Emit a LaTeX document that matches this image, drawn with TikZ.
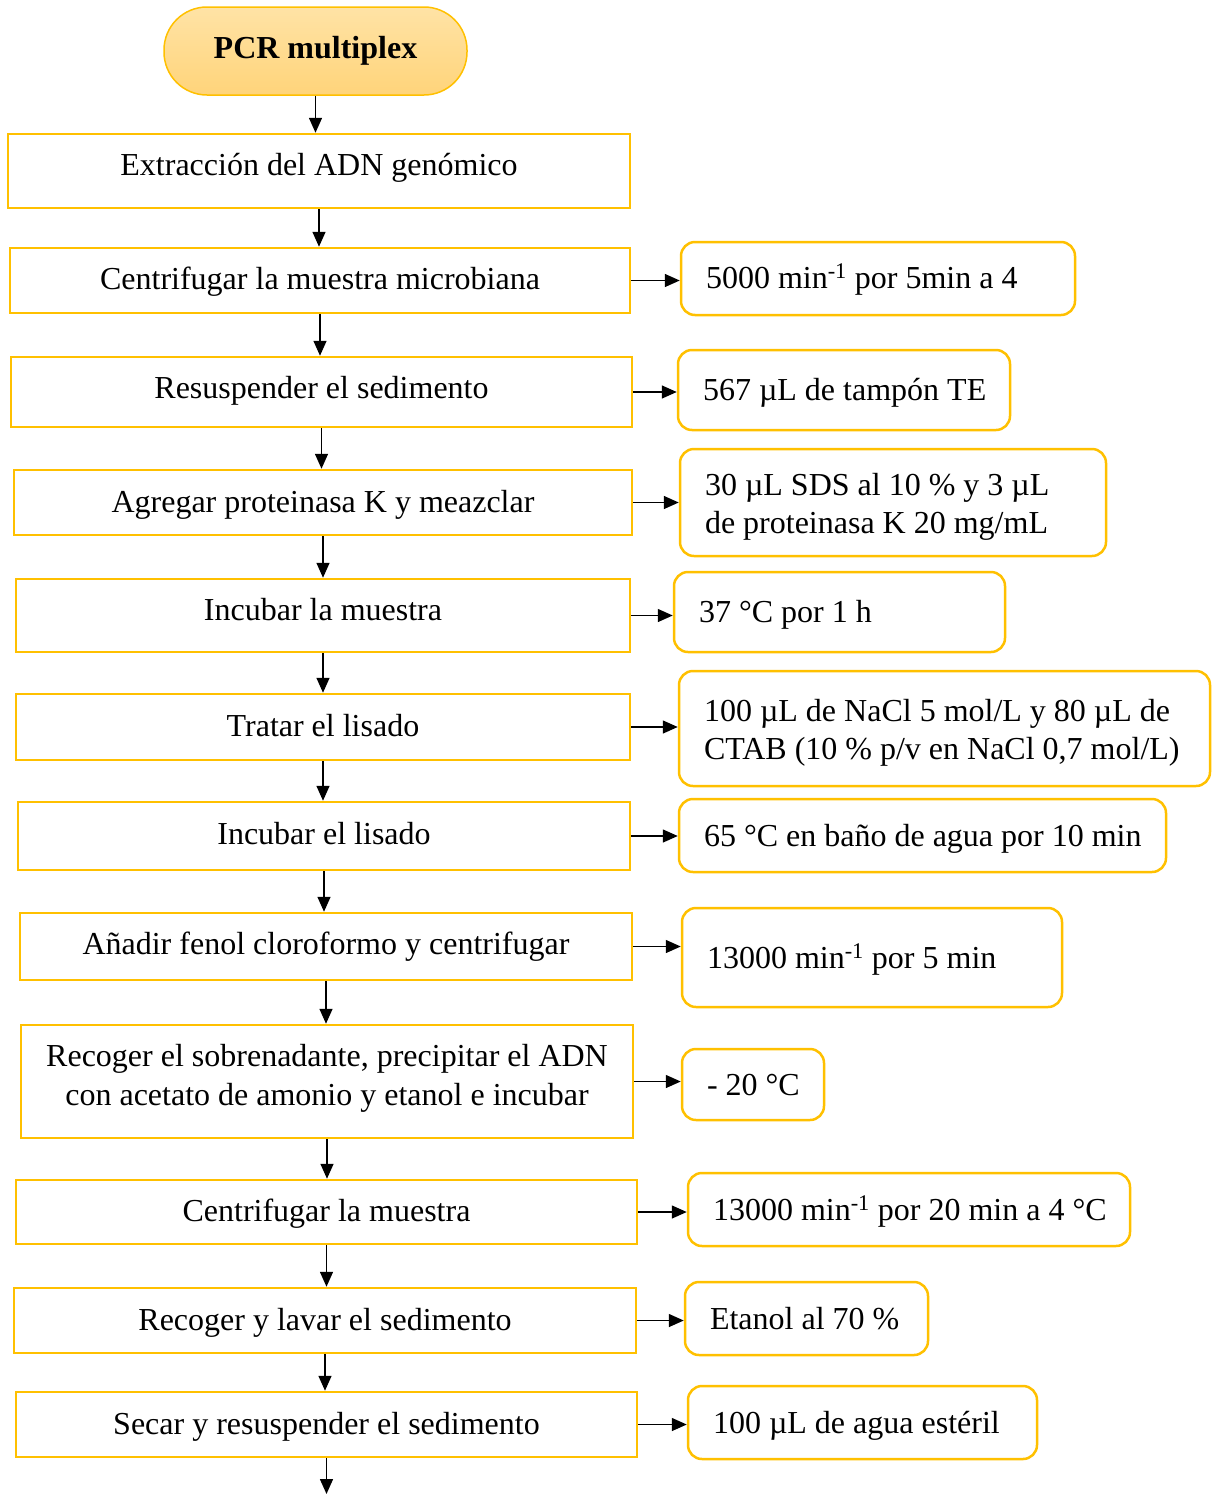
\documentclass[tikz,border=0pt]{standalone}
\usepackage{fontspec}
\setmainfont{Liberation Serif}
\usetikzlibrary{arrows.meta}
\definecolor{gold}{HTML}{FFC000}
\definecolor{ovaltop}{HTML}{FFE3A6}
\definecolor{ovalbot}{HTML}{FFD47A}

% step box: name, x1, y1, x2, y2, depth of last baseline below the top, text
\newcommand\stepnode[7]{%
  \node[stepbox, minimum width={(#4-#2)*1pt}, minimum height={(#5-#3)*1pt},
    text height={#6*1pt}, text depth={(#5-#3-#6)*1pt}]
    (#1) at ({(#2+#4)/2},{(#3+#5)/2}) {#7};}
% note box: name, x1, y1, x2, y2, text height, text depth, text
\newcommand\notenode[8]{%
  \node[notebox, text width={(#4-#2-50)*1pt}, minimum height={(#5-#3)*1pt},
    text height={#6*1pt}, text depth={#7*1pt}]
    (#1) at ({(#2+#4)/2},{(#3+#5)/2}) {#8};}

\begin{document}
\begin{tikzpicture}[x=1pt, y=-1pt,
  stepbox/.style={draw=gold, line width=2.5pt, rectangle, inner sep=0pt,
    align=center, font=\fontsize{32}{39}\selectfont},
  notebox/.style={draw=gold, line width=2.5pt, rectangle, rounded corners=14pt,
    inner xsep=25pt, inner ysep=0pt, align=flush left,
    font=\fontsize{32}{38.5}\selectfont},
  flow/.style={-{Triangle[length=15pt,width=13pt]}, line width=1.5pt, black}
]
\useasboundingbox (0,0) rectangle (1212,1494);

% start terminal
\node[draw=gold, line width=1.5pt, rounded corners=43pt,
  top color=ovaltop, bottom color=ovalbot,
  minimum width=303pt, minimum height=88pt,
  font=\fontsize{32}{39}\selectfont\bfseries] (start) at (315.5,51) {PCR multiplex};

% procedure steps
\stepnode{s1}{8}{134}{630}{208}{41.5}{Extracción del ADN genómico}
\stepnode{s2}{10}{248}{630}{313}{41.5}{Centrifugar la muestra microbiana}
\stepnode{s3}{11}{357}{632}{427}{41.5}{Resuspender el sedimento}
\stepnode{s4}{14}{470}{632}{535}{42}{Agregar proteinasa K y meazclar}
\stepnode{s5}{16}{579}{630}{652}{41.5}{Incubar la muestra}
\stepnode{s6}{16}{694}{630}{760}{42}{Tratar el lisado}
\stepnode{s7}{18}{802}{630}{870}{42}{Incubar el lisado}
\stepnode{s8}{20}{913}{632}{980}{41.5}{Añadir fenol cloroformo y centrifugar}
\stepnode{s9}{21}{1025}{633}{1138}{80}{Recoger el sobrenadante, precipitar el ADN\\con acetato de amonio y etanol e incubar}
\stepnode{s10}{16}{1180}{637}{1244}{41.5}{Centrifugar la muestra}
\stepnode{s11}{14}{1288}{636}{1353}{42}{Recoger y lavar el sedimento}
\stepnode{s12}{16}{1392}{637}{1457}{42}{Secar y resuspender el sedimento}
\coordinate (end) at (325,1494);

% conditions
\notenode{n2}{681}{242}{1075}{315}{25}{6}{\mbox{5000 min\textsuperscript{-1} por 5min a 4}}
\notenode{n3}{678}{350}{1010}{430}{26}{6}{\mbox{567 µL de tampón TE}}
\notenode{n4}{680}{449}{1106}{556}{25}{40}{\mbox{30 µL SDS al 10 \% y 3 µL}\\\mbox{de proteinasa K 20 mg/mL}}
\notenode{n5}{674}{572}{1005}{652}{27}{6}{\mbox{37 °C por 1 h}}
\notenode{n6}{679}{671}{1210}{786}{25}{40}{\mbox{100 µL de NaCl 5 mol/L y 80 µL de}\\\mbox{CTAB (10 \% p/v en NaCl 0,7 mol/L)}}
\notenode{n7}{679}{799}{1166}{872}{27}{6}{\mbox{65 °C en baño de agua por 10 min}}
\notenode{n8}{682}{908}{1062}{1007}{27}{6}{\mbox{13000 min\textsuperscript{-1} por 5 min}}
\notenode{n9}{682}{1049}{824}{1120}{27}{6}{\mbox{- 20 °C}}
\notenode{n10}{688}{1173}{1130}{1246}{27}{6}{\mbox{13000 min\textsuperscript{-1} por 20 min a 4 °C}}
\notenode{n11}{685}{1282}{928}{1355}{27}{6}{\mbox{Etanol al 70 \%}}
\notenode{n12}{688}{1386}{1037}{1459}{28}{6}{\mbox{100 µL de agua estéril}}

% main flow
\draw[flow] (start.south) -- (start.south |- s1.north);
\foreach \a/\b in {s1/s2,s2/s3,s3/s4,s4/s5,s5/s6,s6/s7,s7/s8,s8/s9,s9/s10,s10/s11,s11/s12}
  \draw[flow] (\a.south) -- (\a.south |- \b.north);
\draw[flow] (s12.south) -- (s12.south |- end);

% side conditions
\foreach \i in {2,...,12}
  \draw[flow] (s\i.east) -- (n\i.west |- s\i.east);
\end{tikzpicture}
\end{document}
